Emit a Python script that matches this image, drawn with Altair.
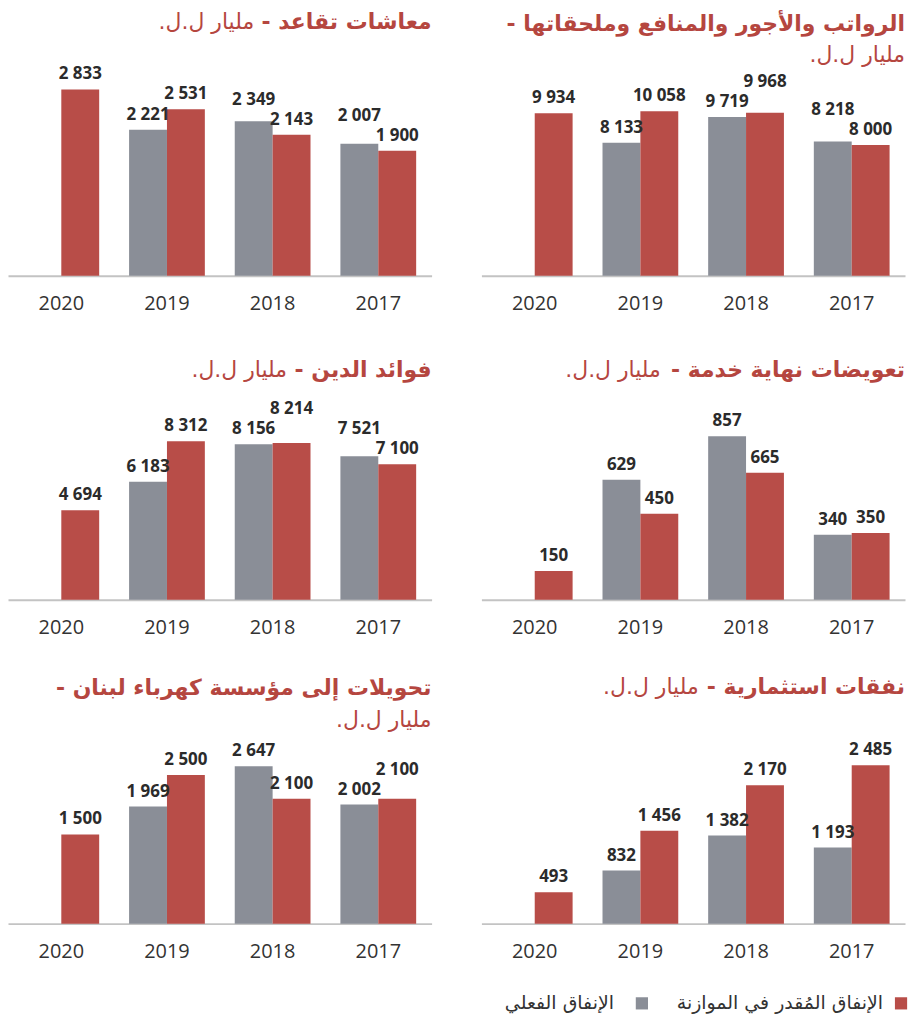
import altair as alt
import pandas as pd

# ---------------- data ----------------
years = ["2020", "2019", "2018", "2017"]
series_keys = ["actual", "budget"]
legend_labels = ["الإنفاق الفعلي", "الإنفاق المُقدر في الموازنة"]
unit_text = "مليار ل.ل."

pensions_actual = [None, 2221, 2349, 2007]
pensions_budget = [2833, 2531, 2143, 1900]

salaries_actual = [None, 8133, 9719, 8218]
salaries_budget = [9934, 10058, 9968, 8000]

debt_actual = [None, 6183, 8156, 7521]
debt_budget = [4694, 8312, 8214, 7100]

eos_actual = [None, 629, 857, 340]
eos_budget = [150, 450, 665, 350]

edl_actual = [None, 1969, 2647, 2002]
edl_budget = [1500, 2500, 2100, 2100]

capex_actual = [None, 832, 1382, 1193]
capex_budget = [493, 1456, 2170, 2485]

titles = [
    "معاشات تقاعد -",
    "الرواتب والأجور والمنافع وملحقاتها -",
    "فوائد الدين -",
    "تعويضات نهاية خدمة -",
    "تحويلات إلى مؤسسة كهرباء لبنان -",
    "نفقات استثمارية -",
]

# ---------------- style ----------------
RED = "#b84d48"
GREY = "#8a8e97"
TITLE_RED = "#b5463f"
TXT = "#2b2b2b"
W = 425
H = 267
RLM = "\u200f"


def panel(title, actual, budget, ymax, title_y, two_line, light_off, legend=False):
    rows = []
    for yr, a, b in zip(years, actual, budget):
        if a is not None:
            rows.append({"year": yr, "series": "actual", "value": a})
        rows.append({"year": yr, "series": "budget", "value": b})
    df = pd.DataFrame(rows)
    gap = ymax * 20.0 / H

    base = alt.Chart(df).transform_joinaggregate(
        gmax="max(value)", gmin="min(value)", n="count()", groupby=["year"]
    ).transform_calculate(
        label="replace(format(datum.value, ','), ',', ' ')",
        lv=f"(datum.n == 2 && datum.value == datum.gmax && datum.gmin >= 1000) ? max(datum.value, datum.gmin + {gap}) : datum.value",
    )

    x = alt.X(
        "year:N",
        sort=years,
        title=None,
        scale=alt.Scale(paddingInner=0.283, paddingOuter=0.146),
        axis=alt.Axis(
            domainColor="#c3c3c3",
            domainWidth=2,
            ticks=False,
            grid=False,
            labelAngle=0,
            labelFont="Open Sans",
            labelFontSize=20,
            labelColor="#333333",
            labelPadding=18,
        ),
    )
    xo = alt.XOffset(
        "series:N",
        sort=series_keys,
        scale=alt.Scale(domain=series_keys, paddingInner=0, paddingOuter=0),
    )
    yscale = alt.Scale(domain=[0, ymax], nice=False, zero=True)

    bars = base.mark_bar().encode(
        x=x,
        xOffset=xo,
        y=alt.Y("value:Q", scale=yscale, axis=None),
        color=alt.Color(
            "series:N",
            scale=alt.Scale(domain=series_keys, range=[GREY, RED]),
            legend=None,
        ),
    )
    labels = base.mark_text(
        font="Open Sans",
        fontWeight="bold",
        fontSize=17,
        color=TXT,
        baseline="alphabetic",
        dy=-10,
    ).encode(
        x=x,
        xOffset=xo,
        y=alt.Y("lv:Q", scale=yscale, axis=None),
        text="label:N",
    )

    one = alt.Data(values=[{}])
    t_bold = alt.Chart(one).mark_text(
        text=title + RLM,
        font="DejaVu Sans",
        fontWeight="bold",
        fontSize=22,
        color=TITLE_RED,
        align="right",
        baseline="middle",
    ).encode(x=alt.value(W), y=alt.value(title_y))

    if two_line:
        lx, ly = W, title_y + 32
    else:
        lx, ly = W - light_off, title_y
    t_light = alt.Chart(one).mark_text(
        text=unit_text + RLM,
        font="DejaVu Sans",
        fontSize=22,
        color=TITLE_RED,
        align="right",
        baseline="middle",
    ).encode(x=alt.value(lx), y=alt.value(ly))

    layers = [bars, labels, t_bold, t_light]

    if legend:
        ly2 = H + 80
        sq_red = alt.Chart(one).mark_square(size=150, color=RED, opacity=1).encode(
            x=alt.value(W - 4), y=alt.value(ly2)
        )
        lab_red = alt.Chart(one).mark_text(
            text=legend_labels[1] + RLM, font="DejaVu Sans", fontSize=19,
            color="#333333", align="right", baseline="middle",
        ).encode(x=alt.value(W - 22), y=alt.value(ly2))
        sq_grey = alt.Chart(one).mark_square(size=150, color=GREY, opacity=1).encode(
            x=alt.value(W - 264), y=alt.value(ly2)
        )
        lab_grey = alt.Chart(one).mark_text(
            text=legend_labels[0] + RLM, font="DejaVu Sans", fontSize=19,
            color="#333333", align="right", baseline="middle",
        ).encode(x=alt.value(W - 292), y=alt.value(ly2))
        layers += [sq_red, lab_red, sq_grey, lab_grey]

    return alt.layer(*layers).properties(width=W, height=H)


p1 = panel(titles[0], pensions_actual, pensions_budget, 4045, 12, False, 178)
p2 = panel(titles[1], salaries_actual, salaries_budget, 16276, 14, True, 0)
p3 = panel(titles[2], debt_actual, debt_budget, 13958, 37, False, 145)
p4 = panel(titles[3], eos_actual, eos_budget, 1395, 37, False, 245)
p5 = panel(titles[4], edl_actual, edl_budget, 4473, 31, True, 0)
p6 = panel(titles[5], capex_actual, capex_budget, 4173, 30, False, 207, legend=True)

chart = alt.ConcatChart(
    concat=[p1, p2, p3, p4, p5, p6],
    columns=2,
    spacing=alt.RowColnumber(row=58, column=50),
    bounds="flush",
).properties(padding=0, background="white").configure_view(stroke=None)

chart.save("out.html", embed_options={"renderer": "svg", "actions": False})
